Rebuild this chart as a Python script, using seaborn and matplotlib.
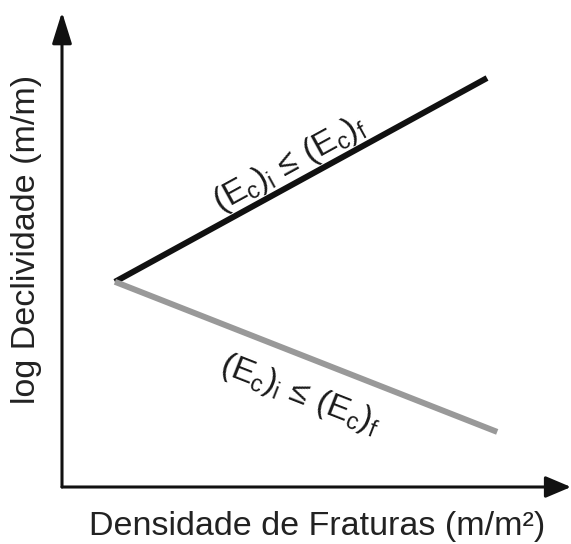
import matplotlib
matplotlib.use("Agg")
import matplotlib.pyplot as plt
import seaborn as sns
import pandas as pd

# Conceptual data (arbitrary units)
x_start = 1.04
y_start = 4.32
x_black_end = 8.35
y_black_end = 8.61
x_gray_end = 8.55
y_gray_end = 1.16

series_names = ["sup", "inf"]
line_colors = ["#111111", "#999999"]

xlabel = "Densidade de Fraturas (m/m²)"
ylabel = "log Declividade (m/m)"
label_text = r"$\mathregular{(E_c)_i\,\leq\,(E_c)_f}$"

sns.set_theme(style="white")
plt.rcParams["font.family"] = ["Liberation Sans", "DejaVu Sans"]
plt.rcParams["mathtext.fontset"] = "custom"
plt.rcParams["mathtext.rm"] = "Liberation Sans"
plt.rcParams["mathtext.it"] = "Liberation Sans"

df = pd.DataFrame({
    "x": [x_start, x_black_end, x_start, x_gray_end],
    "y": [y_start, y_black_end, y_start, y_gray_end],
    "serie": [series_names[0], series_names[0], series_names[1], series_names[1]],
})

W, H = 571, 544
fig = plt.figure(figsize=(W / 100, H / 100), dpi=100)
ax = fig.add_axes([62 / W, (H - 487) / H, (571 - 62) / W, (487 - 12) / H])

sns.lineplot(data=df, x="x", y="y", hue="serie", palette=line_colors,
             linewidth=4.3, legend=False, ax=ax, solid_capstyle="butt")

ax.set_xlim(0, 10)
ax.set_ylim(0, 10)
for s in ax.spines.values():
    s.set_visible(False)
ax.set_xticks([])
ax.set_yticks([])
ax.set_xlabel("")
ax.set_ylabel("")
ax.patch.set_alpha(0)

# Axis arrows
ax.annotate("", xy=(1, 0), xytext=(0, 0), xycoords="axes fraction",
            arrowprops=dict(arrowstyle="-|>,head_length=1.3,head_width=0.55",
                            color="#111111", lw=2.2, shrinkA=0, shrinkB=0),
            annotation_clip=False)
ax.annotate("", xy=(0, 1), xytext=(0, 0), xycoords="axes fraction",
            arrowprops=dict(arrowstyle="-|>,head_length=1.6,head_width=0.5",
                            color="#111111", lw=2.2, shrinkA=0, shrinkB=0),
            annotation_clip=False)

# Line labels
ax.text(4.48, 6.8, label_text, rotation=28.7, rotation_mode="anchor",
        ha="center", va="center", fontsize=24, color="#1a1a1a")
ax.text(4.68, 1.94, label_text, rotation=-21.4, rotation_mode="anchor",
        ha="center", va="center", fontsize=24, color="#1a1a1a")

fig.text(317.5 / W, 1 - 527 / H, xlabel, ha="center", va="center",
         fontsize=24.5, color="#222222")
fig.text(27 / W, 1 - 239 / H, ylabel, ha="center", va="center",
         rotation=90, fontsize=24.5, color="#222222")

fig.savefig("out.png", dpi=100, facecolor="white")
